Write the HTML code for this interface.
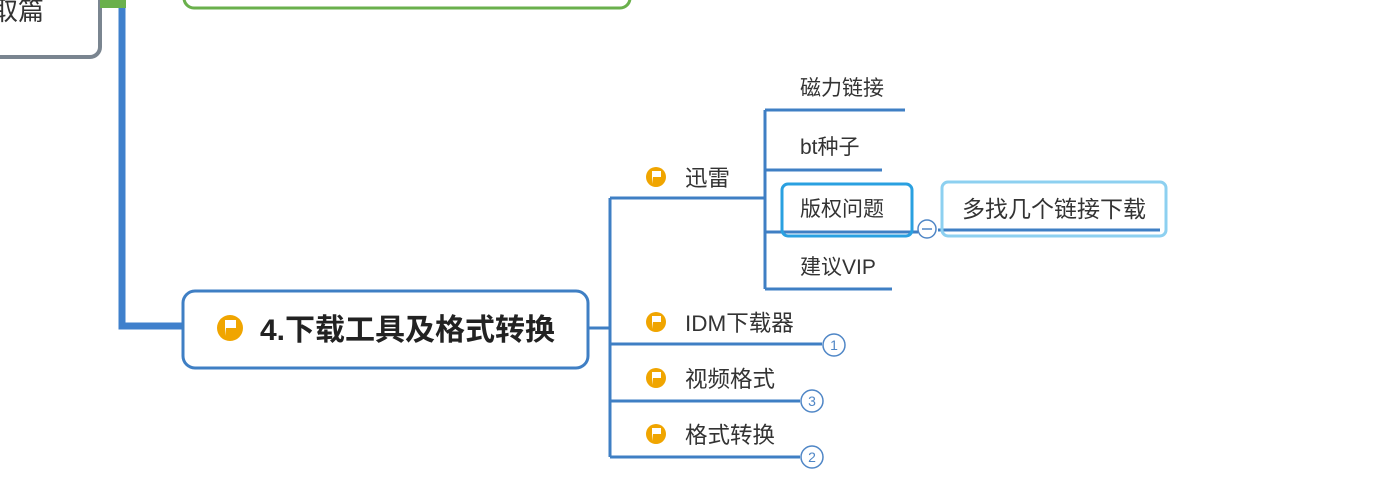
<!DOCTYPE html>
<html><head><meta charset="utf-8"><style>
body{margin:0;background:#fff;}
svg text{font-family:"Liberation Sans","Noto Sans CJK SC",sans-serif;fill:#333;}
</style></head><body>
<svg width="1388" height="492" viewBox="0 0 1388 492" xmlns="http://www.w3.org/2000/svg">
<rect x="-30" y="-20" width="130" height="77" rx="10" fill="#fff" stroke="#7a8590" stroke-width="4"/>
<text x="-8" y="20" font-size="26">取篇</text>
<rect x="184" y="-30" width="446" height="38" rx="10" fill="#fff" stroke="#6ab04c" stroke-width="3"/>
<rect x="100" y="0" width="26" height="8" fill="#6ab04c"/>
<path d="M122 8 V326 H183" fill="none" stroke="#3f80cc" stroke-width="7"/>
<rect x="183" y="291" width="405" height="77" rx="12" fill="#fff" stroke="#3f7fc4" stroke-width="3"/>
<g>
<circle cx="230" cy="328" r="13" fill="#f0a500"/>
<path d="M225 336 V320 H236 V328 H226" fill="#fff"/>
</g>
<text x="260" y="340" font-size="30" font-weight="bold" style="fill:#222">4.下载工具及格式转换</text>
<g fill="none" stroke="#3f7fc4" stroke-width="3">
<path d="M588 328 H610 M610 198 V457"/>
<path d="M610 198 H765 M765 110 V289"/>
<path d="M765 110 H905 M765 170 H882 M765 232 H918 M765 289 H892"/>
<path d="M610 344 H822 M610 401 H800 M610 457 H800"/>
<path d="M938 230 H1160"/>
</g>
<rect x="782" y="184" width="130" height="52" rx="6" fill="none" stroke="#2aa0e0" stroke-width="3"/>
<rect x="942" y="182" width="224" height="54" rx="6" fill="none" stroke="#8dd0f0" stroke-width="3"/>
<circle cx="927" cy="229" r="9" fill="#fff" stroke="#4f86c6" stroke-width="1.5"/>
<path d="M922 229 H932" stroke="#4f86c6" stroke-width="1.5"/>
<g fill="#fff" stroke="#4f86c6" stroke-width="1.5">
<circle cx="834" cy="345" r="11"/><circle cx="812" cy="401" r="11"/><circle cx="812" cy="457" r="11"/>
</g>
<g font-size="14" text-anchor="middle">
<text x="834" y="350" style="fill:#4f86c6">1</text><text x="812" y="406" style="fill:#4f86c6">3</text><text x="812" y="462" style="fill:#4f86c6">2</text>
</g>
<g>
<circle cx="656" cy="177" r="10" fill="#f0a500"/><path d="M652 184 V171 H661 V177 H653" fill="#fff"/>
<circle cx="656" cy="322" r="10" fill="#f0a500"/><path d="M652 329 V316 H661 V322 H653" fill="#fff"/>
<circle cx="656" cy="378" r="10" fill="#f0a500"/><path d="M652 385 V372 H661 V378 H653" fill="#fff"/>
<circle cx="656" cy="434" r="10" fill="#f0a500"/><path d="M652 441 V428 H661 V434 H653" fill="#fff"/>
</g>
<g font-size="22.5">
<text x="685" y="186">迅雷</text>
<text x="685" y="331">IDM下载器</text>
<text x="685" y="387">视频格式</text>
<text x="685" y="443">格式转换</text>
</g>
<g font-size="21">
<text x="800" y="95">磁力链接</text>
<text x="800" y="154">bt种子</text>
<text x="800" y="216">版权问题</text>
<text x="800" y="274">建议VIP</text>
</g>
<text x="962" y="217" font-size="23">多找几个链接下载</text>
</svg>
</body></html>
